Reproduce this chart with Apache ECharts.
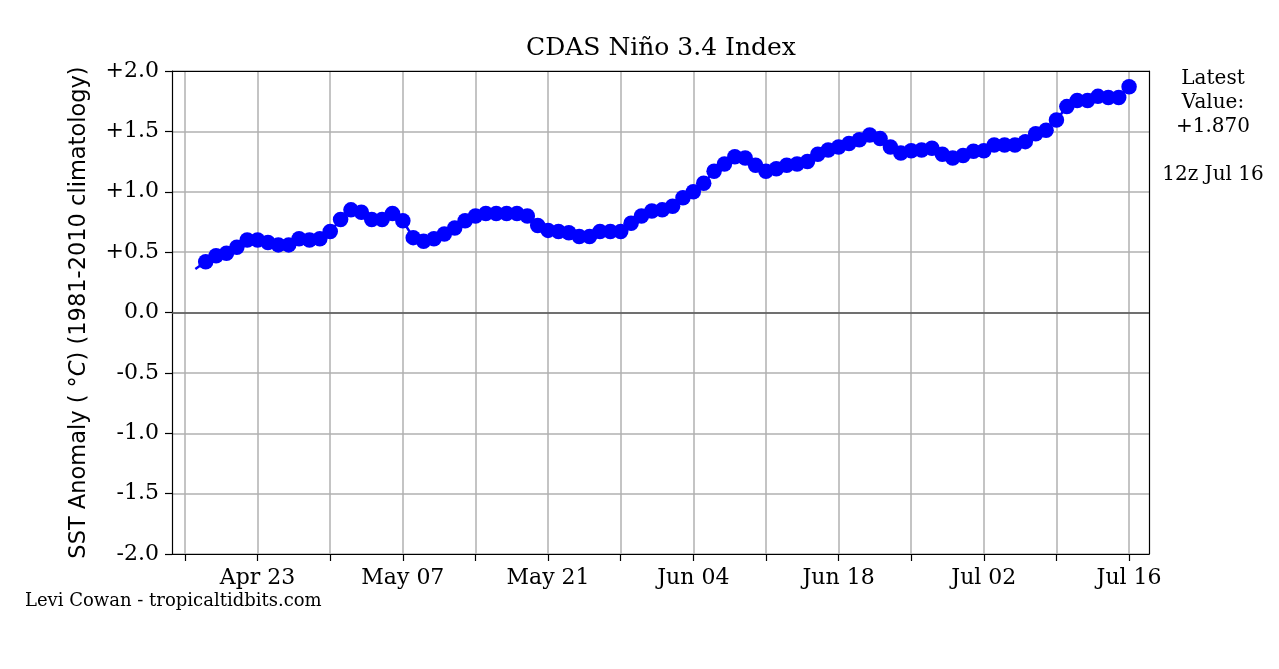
<!DOCTYPE html>
<html>
<head>
<meta charset="utf-8">
<script src="https://cdn.jsdelivr.net/npm/echarts@6/dist/echarts.min.js"></script>
<style>
html, body { margin: 0; padding: 0; background: #fff; }
#chart { width: 1279px; height: 669px; }
</style>
</head>
<body>
<div id="chart"></div>
<script>
// x axis is "days since Apr 16"
const START_DATE = new Date(2023, 3, 16)
const MONTHS = ['Jan', 'Feb', 'Mar', 'Apr', 'May', 'Jun', 'Jul', 'Aug', 'Sep', 'Oct', 'Nov', 'Dec']

const firstDay = 1
const anomaly = [
  0.36, 0.42, 0.47, 0.49, 0.54, 0.60, 0.60, 0.58, 0.56, 0.56,
  0.61, 0.60, 0.61, 0.67, 0.77, 0.85, 0.83, 0.77, 0.77, 0.82,
  0.76, 0.62, 0.59, 0.61, 0.65, 0.70, 0.76, 0.80, 0.82, 0.82,
  0.82, 0.82, 0.80, 0.72, 0.68, 0.67, 0.66, 0.63, 0.63, 0.67,
  0.67, 0.67, 0.74, 0.80, 0.84, 0.85, 0.88, 0.95, 1.00, 1.07,
  1.17, 1.23, 1.29, 1.28, 1.22, 1.17, 1.19, 1.22, 1.23, 1.25,
  1.31, 1.345, 1.37, 1.40, 1.43, 1.47, 1.44, 1.37, 1.32, 1.34,
  1.345, 1.36, 1.31, 1.28, 1.30, 1.335, 1.34, 1.387, 1.387, 1.387,
  1.415, 1.48, 1.51, 1.594, 1.705, 1.755, 1.755, 1.79, 1.78, 1.78,
  1.87,
]

const weekTicks = [0, 7, 14, 21, 28, 35, 42, 49, 56, 63, 70, 77, 84, 91]
const labelTicks = [7, 21, 35, 49, 63, 77, 91]

const latestText = ['Latest', 'Value:', '+1.870']
const latestTime = '12z Jul 16'
const titleText = 'CDAS Niño 3.4 Index'
const credit = 'Levi Cowan - tropicaltidbits.com'

const SERIF = '"DejaVu Serif", serif'
const SANS = '"DejaVu Sans", sans-serif'
const X_MIN = -1.25, X_MAX = 92.92
const Y_MIN = -2, Y_MAX = 2

function dayLabel(v) {
  const d = new Date(START_DATE.getTime())
  d.setDate(d.getDate() + Math.round(v))
  return MONTHS[d.getMonth()] + ' ' + String(d.getDate()).padStart(2, '0')
}

const seriesData = anomaly.map((v, i) => {
  const item = { value: [firstDay + i, v] }
  if (i === 0) item.symbol = 'none'
  return item
})

const spine = { show: true, onZero: false, lineStyle: { color: '#000', width: 1.2 } }

const chart = echarts.init(document.getElementById('chart'), null, { renderer: 'canvas' })

chart.setOption({
  animation: false,
  backgroundColor: '#fff',
  grid: { left: 172, right: 130, top: 71, bottom: 115 },
  xAxis: [
    {
      type: 'value',
      min: X_MIN,
      max: X_MAX,
      axisLine: spine,
      axisTick: {
        show: true, inside: false, length: 7,
        customValues: weekTicks,
        lineStyle: { color: '#000', width: 1.2 },
      },
      axisLabel: {
        customValues: labelTicks,
        formatter: dayLabel,
        margin: 13,
        color: '#000',
        fontFamily: SERIF,
        fontSize: 22,
      },
      splitLine: { show: true, lineStyle: { color: '#b0b0b0', width: 1.5 } },
    },
    {
      type: 'value', position: 'top', min: X_MIN, max: X_MAX,
      axisLine: spine, axisTick: { show: false }, axisLabel: { show: false }, splitLine: { show: false },
    },
  ],
  yAxis: [
    {
      type: 'value',
      min: Y_MIN,
      max: Y_MAX,
      interval: 0.5,
      axisLine: spine,
      axisTick: { show: true, inside: false, length: 7, lineStyle: { color: '#000', width: 1.2 } },
      axisLabel: {
        formatter: (v) => (v > 0 ? '+' : '') + v.toFixed(1),
        margin: 13,
        color: '#000',
        fontFamily: SERIF,
        fontSize: 22,
      },
      splitLine: { show: true, lineStyle: { color: '#b0b0b0', width: 1.5 } },
      name: '{n|SST Anomaly ( °}{i|C}{n|) (1981-2010 climatology)}',
      nameLocation: 'middle',
      nameRotate: 90,
      nameGap: 81,
      nameTextStyle: {
        rich: {
          n: { fontFamily: SANS, fontSize: 22.5, color: '#000' },
          i: { fontFamily: SANS, fontSize: 22.5, fontStyle: 'italic', color: '#000' },
        },
      },
    },
    {
      type: 'value', position: 'right', min: Y_MIN, max: Y_MAX,
      axisLine: spine, axisTick: { show: false }, axisLabel: { show: false }, splitLine: { show: false },
    },
  ],
  series: [
    {
      type: 'line',
      data: seriesData,
      symbol: 'circle',
      symbolSize: 15.5,
      showSymbol: true,
      color: '#0000ff',
      lineStyle: { color: '#0000ff', width: 2.5 },
      itemStyle: { color: '#0000ff' },
      markLine: {
        silent: true,
        symbol: 'none',
        label: { show: false },
        lineStyle: { color: '#555', type: 'solid', width: 1.6 },
        data: [{ yAxis: 0 }],
        z: 1,
      },
    },
  ],
  graphic: [
    {
      type: 'text', x: 661, y: 48,
      style: { text: titleText, fontFamily: SERIF, fontSize: 25, fill: '#000', align: 'center', verticalAlign: 'middle' },
    },
    {
      type: 'text', x: 1213, y: 67,
      style: { text: latestText.join('\n'), lineHeight: 24, fontFamily: SERIF, fontSize: 20, fill: '#000', align: 'center', verticalAlign: 'top' },
    },
    {
      type: 'text', x: 1213, y: 175,
      style: { text: latestTime, fontFamily: SERIF, fontSize: 20, fill: '#000', align: 'center', verticalAlign: 'middle' },
    },
    {
      type: 'text', x: 25, y: 601,
      style: { text: credit, fontFamily: SERIF, fontSize: 18, fill: '#000', align: 'left', verticalAlign: 'middle' },
    },
  ],
})
</script>
</body>
</html>
